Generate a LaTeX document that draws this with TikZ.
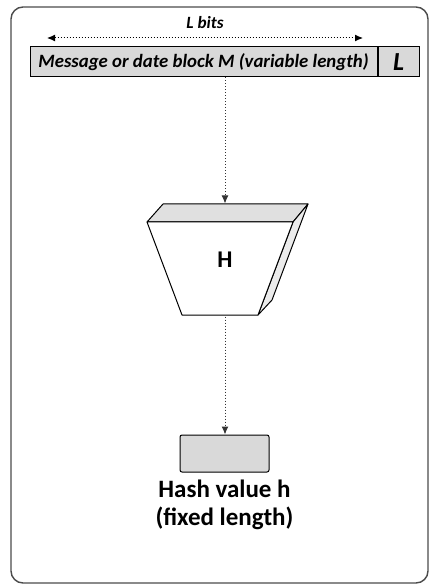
\documentclass[tikz,border=0pt]{standalone}
\usepackage{fontspec}
\setmainfont{Carlito}
\usetikzlibrary{arrows.meta, positioning, calc}

\begin{document}
\begin{tikzpicture}[
    x=0.5pt, y=-0.5pt,
    line width=0.5pt,
    >={Latex[length=4pt, width=3.5pt]},
    flow/.style={->, densely dotted, draw=black!80},
    block/.style={rectangle, draw, fill=#1, inner sep=0pt, align=center},
    face/.style={draw, line join=round, fill=#1},
]
    \useasboundingbox (0,0) rectangle (430,587);
    \draw[black!70, line width=0.7pt, rounded corners=6pt] (11,7) rectangle (428,583);

    % input block
    \node[block=black!15, minimum width=173.5pt, minimum height=15pt, font=\bfseries\itshape\fontsize{9.4}{10}\selectfont] (msg) at (203.5,62) {Message or date block M (variable length)};
    \node[block=black!15, minimum width=20.5pt, minimum height=15pt, right=0pt of msg, font=\bfseries\itshape\fontsize{13}{14}\selectfont] (lenfield) {L};

    \coordinate (bitsleft) at (47,38);
    \coordinate (bitsright) at (363,38);
    \draw[<->, densely dotted] (bitsleft) -- node[above=1pt, font=\bfseries\itshape\fontsize{8.6}{10}\selectfont] (bitslabel) {L bits} (bitsright);

    % hash function
    \draw[face=black!12] (163,204) -- (308,204) -- (293,222) -- (147,222) -- cycle;
    \draw[face=black!8] (308,204) -- (272,300) -- (258,315) -- (293,222) -- cycle;
    \draw[face=white] (147,222) -- (293,222) -- (258,315) -- (182,315) -- cycle;
    \node[minimum width=73pt, minimum height=56pt, inner sep=0pt, font=\bfseries\fontsize{12}{14}\selectfont] (hashfn) at (225,260) {H};

    % output
    \node[block=black!15, minimum width=44.5pt, minimum height=18.5pt, rounded corners=1pt] (hashout) at (224.5,453.5) {};
    \node[below=0pt of hashout, align=center, font=\bfseries\fontsize{12.5}{14}\selectfont] (outlabel) {Hash value h\\(fixed length)};

    \draw[flow] (msg.south -| hashfn.north) -- (hashfn.north);
    \draw[flow] (hashfn.south) -- (hashout.north -| hashfn.south);

\end{tikzpicture}
\end{document}
